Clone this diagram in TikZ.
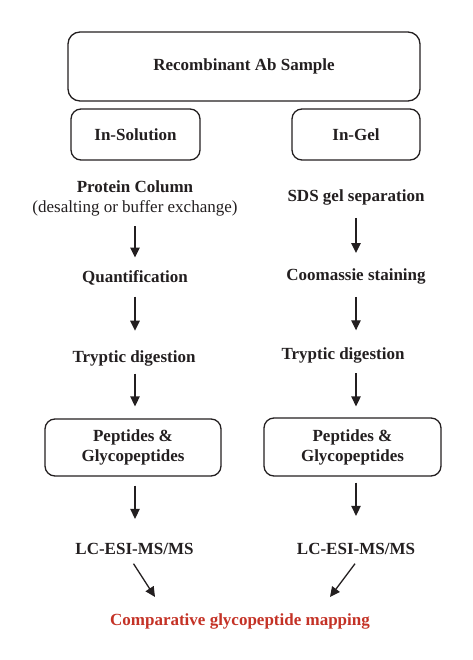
\documentclass[tikz,border=0pt]{standalone}
\usepackage{fontspec}
\setmainfont{Liberation Serif}
\usepackage{xcolor}
\usetikzlibrary{arrows.meta,positioning,calc}
\definecolor{ink}{RGB}{35,31,32}
\definecolor{mapred}{RGB}{196,50,38}

\begin{document}
\begin{tikzpicture}[
  x=1pt, y=-1pt,
  font=\fontsize{17}{20}\selectfont\bfseries,
  box/.style={draw=ink, line width=1.3pt, rounded corners=10pt, align=center, inner sep=0pt, text=ink},
  stage/.style={inner sep=0pt, anchor=base, text=ink},
  result/.style={inner sep=0pt, anchor=base, text=mapred},
  arr/.style={-{Triangle[length=10pt,width=9.5pt]}, line width=1.3pt, draw=ink}
]
\useasboundingbox (0,0) rectangle (472,660);

% sample and the two routes
\node[box, minimum width=352pt, minimum height=69pt, rounded corners=12pt] (sample) at (244,66.5) {Recombinant Ab Sample};
\node[box, minimum width=129pt, minimum height=51pt] (insol) at (135.5,134.5) {In-Solution};
\node[box, minimum width=128pt, minimum height=51pt] (ingel) at (356,134.5) {In-Gel};

% in-solution route
\node[stage, align=center, anchor=north] (column) at (135,180.5) {Protein Column\\\mdseries (desalting or buffer exchange)};
\node[stage] (quant) at (135,282.7) {Quantification};
\node[stage] (tryp1) at (134,362.7) {Tryptic digestion};
\node[box, minimum width=176pt, minimum height=57pt] (pep1) at (133,447.5) {Peptides \&\\Glycopeptides};
\node[stage] (lc1) at (134.5,554.3) {LC-ESI-MS/MS};

% in-gel route
\node[stage] (sds) at (356,201) {SDS gel separation};
\node[stage] (stain) at (356,280) {Coomassie staining};
\node[stage] (tryp2) at (343,359.3) {Tryptic digestion};
\node[box, minimum width=177pt, minimum height=58pt] (pep2) at (352.5,447) {Peptides \&\\Glycopeptides};
\node[stage] (lc2) at (356,554.3) {LC-ESI-MS/MS};

\node[result] (map) at (240,625) {Comparative glycopeptide mapping};
\coordinate (join1) at (155,597);
\coordinate (join2) at (330,597);

\draw[arr, shorten <=10pt, shorten >=13pt] (column.south) -- (column.south |- quant.north);
\draw[arr, shorten <=11pt, shorten >=20pt] (quant.south) -- (quant.south |- tryp1.north);
\draw[arr, shorten <=7pt, shorten >=12pt] (quant.south |- tryp1.south) -- (quant.south |- pep1.north);
\draw[arr, shorten <=9pt, shorten >=24pt] (quant.south |- pep1.south) -- (quant.south |- lc1.north);

\draw[arr, shorten <=13pt, shorten >=15pt] (sds.south) -- (sds.south |- stain.north);
\draw[arr, shorten <=13pt, shorten >=17pt] (stain.south) -- (stain.south |- tryp2.north);
\draw[arr, shorten <=10pt, shorten >=11pt] (stain.south |- tryp2.south) -- (stain.south |- pep2.north);
\draw[arr, shorten <=6pt, shorten >=27pt] (stain.south |- pep2.south) -- (stain.south |- lc2.north);

\draw[arr] ([shift={(-1,9)}]lc1.south) -- (join1);
\draw[arr] ([shift={(-1,9)}]lc2.south) -- (join2);
\end{tikzpicture}
\end{document}
